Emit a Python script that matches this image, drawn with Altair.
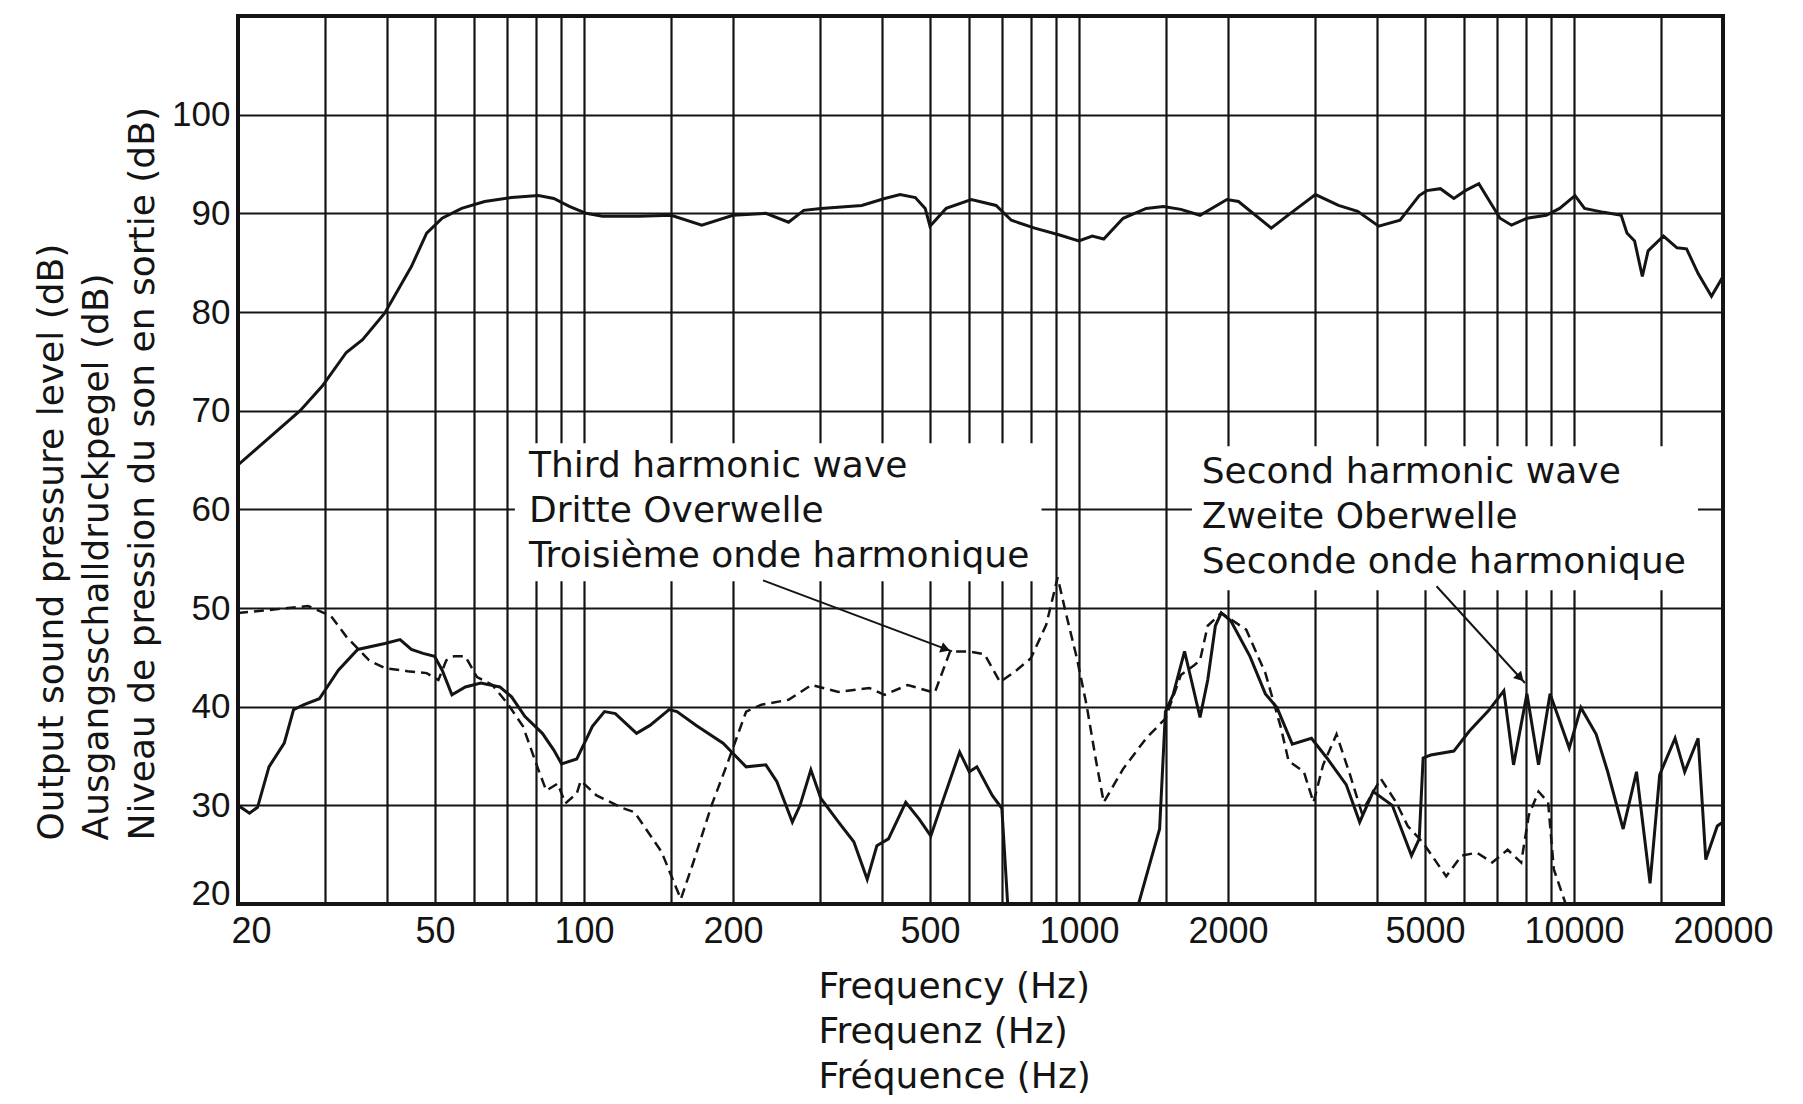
import math
import altair as alt
import pandas as pd

# ---------------- data ----------------
# Output sound pressure level (top curve)
RESP_HZ = [20, 26.7, 29.6, 33.1, 35.7, 39.6, 44.8, 48.1, 51.7, 56.6, 63, 71.4, 80.9, 86.9, 93.4,
           101, 109, 129, 150, 173, 200, 233, 259, 278, 301, 364, 405, 435, 467, 489, 500,
           539, 606, 680, 730, 814, 914, 999, 1064, 1122, 1228, 1367, 1481, 1606, 1756,
           1990, 2100, 2446, 2674, 3004, 3344, 3656, 4032, 4452, 4868, 5044, 5372, 5718,
           6033, 6423, 7089, 7479, 8034, 8788, 9354, 10047, 10505, 11487, 12455, 12791,
           13256, 13742, 14117, 15163, 16145, 16882, 17815, 18956, 20000]
RESP_DB = [64.5, 70.0, 72.5, 75.9, 77.2, 79.9, 84.6, 88.0, 89.5, 90.5, 91.2, 91.6, 91.8, 91.5, 90.7,
           90.0, 89.7, 89.7, 89.8, 88.8, 89.8, 90.0, 89.1, 90.3, 90.5, 90.8, 91.5, 91.9, 91.6, 90.5, 88.7,
           90.5, 91.4, 90.8, 89.3, 88.5, 87.8, 87.2, 87.7, 87.4, 89.5, 90.5, 90.7, 90.4, 89.8,
           91.4, 91.2, 88.5, 90.0, 91.9, 90.8, 90.2, 88.7, 89.3, 91.8, 92.3, 92.5, 91.5,
           92.3, 93.0, 89.5, 88.8, 89.5, 89.8, 90.5, 91.8, 90.5, 90.1, 89.8, 88.0,
           87.2, 83.6, 86.2, 87.7, 86.5, 86.4, 83.9, 81.6, 83.6]

# Second harmonic (solid), low-frequency part
H2_LOW_HZ = [20, 21.1, 21.9, 23.1, 24.8, 25.9, 27.2, 29.2, 31.9, 34.9, 39.6, 42.5, 44.8, 47.3,
             49.9, 51.7, 54.1, 57.6, 61.9, 67.6, 71.4, 76.0, 82.4, 86.9, 90.1, 96.7, 100.2,
             104, 110, 115.7, 127.7, 135.9, 148.6, 154.1, 168.6, 191, 201.5, 212.6, 233,
             245.3, 263.6, 273.2, 287.3, 301, 326.8, 350.8, 373.4, 390.5, 412.2, 446.7,
             475.5, 501.9, 529.5, 574, 600.2, 622, 668, 698.5, 717.7]
H2_LOW_DB = [30.0, 29.2, 29.8, 33.9, 36.3, 39.7, 40.2, 40.8, 43.7, 45.8, 46.4, 46.8, 45.8, 45.4,
             45.1, 43.7, 41.2, 42.0, 42.4, 42.0, 41.0, 39.0, 37.3, 35.6, 34.2, 34.7, 36.3,
             38.0, 39.5, 39.3, 37.3, 38.1, 39.7, 39.5, 38.1, 36.3, 35.1, 33.9, 34.1,
             32.4, 28.3, 30.0, 33.6, 30.7, 28.3, 26.3, 22.5, 25.9, 26.6, 30.3,
             28.6, 26.9, 30.3, 35.4, 33.4, 33.9, 31.0, 29.7, 20.0]
# Second harmonic (solid), high-frequency part
H2_HIGH_HZ = [1319, 1392, 1455, 1495, 1549, 1634, 1690, 1756, 1820, 1886, 1938, 2026, 2215,
              2380, 2512, 2697, 2949, 3168, 3466, 3690, 3929, 4295, 4696, 4868, 4957, 5137,
              5718, 6142, 6721, 7216, 7549, 8034, 8479, 8946, 9782, 10327, 11088, 11698,
              12569, 13375, 14245, 14897, 16004, 16735, 17815, 18462, 19475, 20000]
H2_HIGH_DB = [20.0, 24.2, 27.6, 39.5, 41.2, 45.6, 42.5, 38.9, 42.7, 48.2, 49.5, 48.7, 45.1,
              41.3, 39.9, 36.2, 36.8, 34.8, 32.1, 28.3, 31.4, 30.0, 24.9, 26.6, 34.8, 35.1,
              35.5, 37.5, 39.6, 41.6, 34.1, 41.3, 34.1, 41.3, 35.8, 39.9, 37.2, 33.4,
              27.6, 33.4, 22.1, 33.1, 36.8, 33.4, 36.8, 24.5, 27.9, 28.3]

# Third harmonic (dashed)
H3_HZ = [20, 23.1, 27.7, 30.8, 33.1, 36.8, 39.6, 44.0, 48.1, 50.8, 52.7, 54.6, 57.6, 60.8,
         65.3, 70.1, 75.3, 80.9, 83.9, 88.5, 91.7, 96.7, 98.5, 106, 120, 126.5, 143.4,
         156.9, 165.5, 181, 194.4, 212.6, 228.3, 258.9, 288.2, 326.8, 376.8, 404.8, 450.8,
         511, 549, 600.2, 644.6, 692.5, 744, 799.4, 858.6, 905.6, 938.6, 990.3, 1035.6,
         1083.6, 1122, 1228, 1367, 1495, 1606, 1709, 1756, 1820, 1938, 2177, 2380, 2557,
         2651, 2846, 2977, 3113, 3313, 3528, 3723, 4071, 4373, 4614, 4957, 5519, 5925,
         6365, 6838, 7345, 7822, 8104, 8479, 8867, 9105, 9607]
H3_DB = [49.5, 49.8, 50.2, 49.2, 47.1, 44.7, 43.9, 43.6, 43.4, 42.7, 44.7, 45.1, 45.1, 43.0,
         42.2, 40.3, 38.0, 33.6, 31.5, 32.2, 30.2, 31.2, 32.5, 31.0, 29.7, 29.3, 25.3,
         20.5, 23.9, 30.0, 34.1, 39.5, 40.2, 40.7, 42.2, 41.5, 41.9, 41.2, 42.2,
         41.4, 45.6, 45.6, 45.3, 42.5, 43.6, 44.9, 48.3, 53.1, 49.7, 44.9, 40.2,
         34.4, 30.3, 33.7, 36.8, 38.8, 43.2, 44.2, 44.7, 48.2, 49.5, 47.8, 43.4, 37.9,
         34.5, 33.4, 30.3, 34.1, 37.2, 33.1, 29.3, 32.7, 30.3, 27.9, 26.2, 22.8, 24.9,
         25.2, 24.2, 25.5, 24.2, 29.0, 31.4, 30.3, 23.5, 20.1]

# Axes
X_GRID_HZ = [20, 30, 40, 50, 60, 70, 80, 90, 100, 150, 200, 300, 400, 500, 600, 700, 800, 900,
             1000, 1500, 2000, 3000, 4000, 5000, 6000, 7000, 8000, 9000, 10000, 15000, 20000]
X_LABEL_HZ = [20, 50, 100, 200, 500, 1000, 2000, 5000, 10000, 20000]
Y_TICKS_DB = [20, 30, 40, 50, 60, 70, 80, 90, 100]
X_DOMAIN = [20, 20000]
Y_DOMAIN = [20, 110]
X_TITLE = ["Frequency (Hz)", "Frequenz (Hz)", "Fréquence (Hz)"]
Y_TITLE = ["Output sound pressure level (dB)", "Ausgangsschalldruckpegel (dB)",
           "Niveau de pression du son en sortie (dB)"]

# Annotations
NOTE_TEXT = ["Third harmonic wave\nDritte Overwelle\nTroisième onde harmonique",
             "Second harmonic wave\nZweite Oberwelle\nSeconde onde harmonique"]
NOTE_HZ = [77.4, 1770]
NOTE_DB = [63.3, 62.7]
NOTE_BOX_HZ_FROM = [72.5, 1691]
NOTE_BOX_HZ_TO = [840, 17800]
NOTE_BOX_DB_FROM = [52.7, 51.8]
NOTE_BOX_DB_TO = [66.7, 66.4]
ARROW_FROM_HZ = [230, 5276]
ARROW_FROM_DB = [52.8, 52.2]
ARROW_TO_HZ = [554, 7962]
ARROW_TO_DB = [45.6, 42.4]

# ---------------- chart ----------------
W, H = 1485, 888
INK = "#141414"
TEXT_FONT = "DejaVu Sans"
NUM_FONT = "Liberation Sans"

resp_df = pd.DataFrame({"hz": RESP_HZ, "db": RESP_DB})
h2_df = pd.DataFrame({
    "hz": H2_LOW_HZ + H2_HIGH_HZ,
    "db": H2_LOW_DB + H2_HIGH_DB,
    "seg": ["low"] * len(H2_LOW_HZ) + ["high"] * len(H2_HIGH_HZ),
})
h3_df = pd.DataFrame({"hz": H3_HZ, "db": H3_DB})
note_df = pd.DataFrame({"hz": NOTE_HZ, "db": NOTE_DB, "label": NOTE_TEXT})
box_df = pd.DataFrame({"hz": NOTE_BOX_HZ_FROM, "hz2": NOTE_BOX_HZ_TO,
                       "db": NOTE_BOX_DB_FROM, "db2": NOTE_BOX_DB_TO})
arrow_df = pd.DataFrame({"hz": ARROW_FROM_HZ, "db": ARROW_FROM_DB,
                         "hz2": ARROW_TO_HZ, "db2": ARROW_TO_DB})

# arrow-head placement/rotation derived from the scales' pixel geometry
px_dec = W / math.log10(X_DOMAIN[1] / X_DOMAIN[0])
px_db = H / (Y_DOMAIN[1] - Y_DOMAIN[0])
heads = []
for a in arrow_df.itertuples():
    l1, l2 = math.log10(a.hz), math.log10(a.hz2)
    dx = (l2 - l1) * px_dec
    dy = (a.db - a.db2) * px_db
    length = math.hypot(dx, dy)
    t = 1 - 7 / length
    heads.append({"hz": 10 ** (l1 + t * (l2 - l1)), "db": a.db + t * (a.db2 - a.db),
                  "ang": math.degrees(math.atan2(dy, dx)) + 90})
head_df = pd.DataFrame(heads)

xscale = alt.Scale(type="log", domain=X_DOMAIN, nice=False)
yscale = alt.Scale(domain=Y_DOMAIN, nice=False, zero=False)

label_list = ",".join(str(v) for v in X_LABEL_HZ)
x_axis = alt.Axis(
    values=X_GRID_HZ, grid=True, gridColor=INK, gridWidth=2.2, gridOpacity=1,
    ticks=False, tickSize=0, domain=False, labelOverlap=False,
    labelExpr=f"indexof([{label_list}], datum.value) >= 0 ? format(datum.value, 'd') : ''",
    labelFont=NUM_FONT, labelFontSize=36, labelColor=INK, labelPadding=10,
    labelAlign={"condition": {"test": "datum.value <= 20", "value": "left"}, "value": "center"},
    labelOffset={"condition": {"test": "datum.value <= 20", "value": -7}, "value": 0},
    title=X_TITLE, titleFont=TEXT_FONT, titleFontSize=36, titleFontWeight="normal",
    titleColor=INK, titleAlign="left", titleBaseline="alphabetic", titleAngle=0,
    titleX=580, titleY=93, titleLineHeight=45,
)
y_axis = alt.Axis(
    values=Y_TICKS_DB, grid=True, gridColor=INK, gridWidth=2.2, gridOpacity=1,
    ticks=False, tickSize=0, domain=False, labelOverlap=False,
    labelFont=NUM_FONT, labelFontSize=35, labelColor=INK, labelPadding=8,
    labelFlush=True, labelFlushOffset=7,
    title=Y_TITLE, titleFont=TEXT_FONT, titleFontSize=36, titleFontWeight="normal",
    titleColor=INK, titleAngle=270, titleAlign="left", titleBaseline="alphabetic",
    titleX=-176, titleY=824, titleLineHeight=45.5,
)


def xy():
    return {"x": alt.X("hz:Q", scale=xscale, axis=x_axis),
            "y": alt.Y("db:Q", scale=yscale, axis=y_axis)}


boxes = alt.Chart(box_df).mark_rect(color="white").encode(**xy(), x2="hz2:Q", y2="db2:Q")

response = alt.Chart(resp_df).mark_line(color=INK, strokeWidth=3, clip=True).encode(**xy())

second = alt.Chart(h2_df).mark_line(color=INK, strokeWidth=3, clip=True).encode(
    **xy(), detail="seg:N")

third = alt.Chart(h3_df).mark_line(color=INK, strokeWidth=2.5, strokeDash=[10, 6],
                                   clip=True).encode(**xy())

arrows = alt.Chart(arrow_df).mark_rule(color=INK, strokeWidth=2).encode(
    **xy(), x2="hz2:Q", y2="db2:Q")

heads_layer = alt.Chart(head_df).mark_point(shape="triangle-up", filled=True, size=120,
                                            color=INK, opacity=1).encode(
    **xy(), angle=alt.Angle("ang:Q", scale=None))

notes = alt.Chart(note_df).mark_text(align="left", baseline="alphabetic", font=TEXT_FONT,
                                     fontSize=36, lineBreak="\n", lineHeight=45,
                                     color=INK).encode(**xy(), text="label:N")

chart = alt.layer(boxes, response, second, third, arrows, heads_layer, notes).properties(
    width=W, height=H,
    autosize=alt.AutoSizeParams(type="none"),
    padding={"left": 230, "top": 8, "right": 72, "bottom": 192},
    background="white",
).configure(
    font=TEXT_FONT,
    view=alt.ViewConfig(stroke=INK, strokeWidth=4),
)

chart.save("out.html", embed_options={"renderer": "svg", "actions": False})
